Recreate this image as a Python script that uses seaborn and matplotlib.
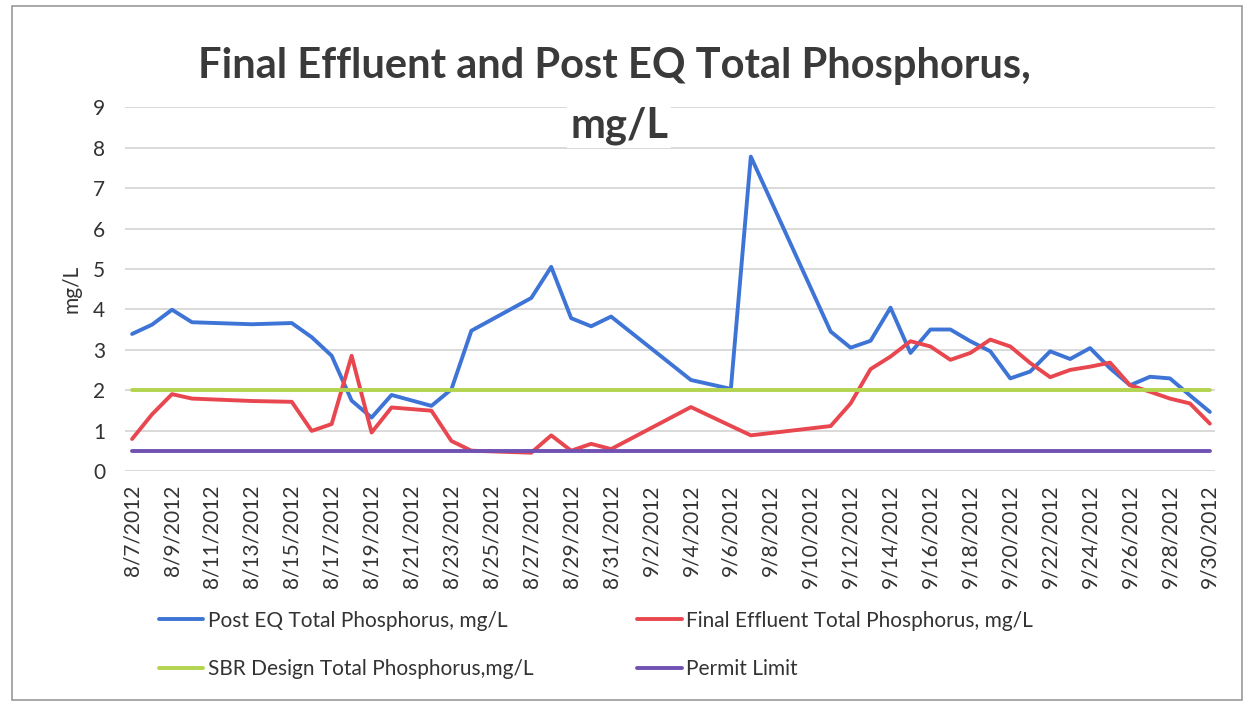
import matplotlib
matplotlib.use("Agg")
import matplotlib.pyplot as plt
import numpy as np
import pandas as pd
import seaborn as sns

# sample dates (Excel date axis, only days with samples)
dates = [
    "2012-08-07", "2012-08-08", "2012-08-09", "2012-08-10", "2012-08-13",
    "2012-08-15", "2012-08-16", "2012-08-17", "2012-08-18", "2012-08-19",
    "2012-08-20", "2012-08-22", "2012-08-23", "2012-08-24", "2012-08-27",
    "2012-08-28", "2012-08-29", "2012-08-30", "2012-08-31", "2012-09-04",
    "2012-09-06", "2012-09-07", "2012-09-11", "2012-09-12", "2012-09-13",
    "2012-09-14", "2012-09-15", "2012-09-16", "2012-09-17", "2012-09-18",
    "2012-09-19", "2012-09-20", "2012-09-21", "2012-09-22", "2012-09-23",
    "2012-09-24", "2012-09-25", "2012-09-26", "2012-09-27", "2012-09-28",
    "2012-09-29", "2012-09-30",
]
post_eq = [
    3.39, 3.62, 3.99, 3.68, 3.63, 3.66, 3.31, 2.85, 1.74, 1.32,
    1.88, 1.61, 2.02, 3.47, 4.28, 5.05, 3.78, 3.58, 3.82, 2.25,
    2.03, 7.78, 3.45, 3.05, 3.22, 4.04, 2.92, 3.50, 3.50, 3.21,
    2.96, 2.29, 2.46, 2.96, 2.77, 3.04, 2.54, 2.12, 2.33, 2.29,
    1.87, 1.46,
]
final_eff = [
    0.79, 1.40, 1.90, 1.79, 1.73, 1.71, 0.99, 1.16, 2.85, 0.95,
    1.57, 1.49, 0.74, 0.50, 0.45, 0.88, 0.50, 0.67, 0.54, 1.58,
    np.nan, 0.88, 1.11, 1.67, 2.52, 2.83, 3.21, 3.08, 2.75, 2.92,
    3.25, 3.08, 2.67, 2.32, 2.50, 2.58, 2.68, 2.12, 1.96, 1.79,
    1.67, 1.17,
]
SBR_DESIGN = 2.0
PERMIT_LIMIT = 0.5

series_names = [
    "Post EQ Total Phosphorus, mg/L",
    "Final Effluent Total Phosphorus, mg/L",
    "SBR Design Total Phosphorus,mg/L",
    "Permit Limit",
]
colors = ["#3d74d6", "#e8474f", "#b3d44f", "#7052b3"]

d = pd.to_datetime(dates)
df = pd.concat([
    pd.DataFrame({"date": d, "value": post_eq, "series": series_names[0]}),
    pd.DataFrame({"date": d, "value": final_eff, "series": series_names[1]}),
    pd.DataFrame({"date": d, "value": SBR_DESIGN, "series": series_names[2]}),
    pd.DataFrame({"date": d, "value": PERMIT_LIMIT, "series": series_names[3]}),
]).dropna()

sns.set_style("white")
plt.rcParams["font.family"] = ["Lato", "DejaVu Sans"]

fig = plt.figure(figsize=(12.46, 7.06), dpi=100)
ax = fig.add_axes([0.100, 0.333, 0.875, 0.515])

sns.lineplot(data=df, x="date", y="value", hue="series",
             hue_order=series_names, palette=colors, linewidth=2.8,
             ax=ax, legend=False, sort=True, estimator=None)

ax.set_ylim(0, 9)
ax.set_yticks(range(0, 10))
start, end = d.min(), d.max()
ax.set_xlim(start - pd.Timedelta(hours=9), end + pd.Timedelta(hours=6))
ticks = pd.date_range(start, end, freq="2D")
ax.set_xticks(ticks)
ax.set_xticklabels([f"{t.month}/{t.day}/{t.year}" for t in ticks],
                   rotation=90, fontsize=15, color="#333333")
ax.tick_params(axis="x", length=0, pad=10)
ax.tick_params(axis="y", length=0, pad=14, labelsize=15, labelcolor="#333333")
ax.grid(axis="y", color="#cfcfcf", linewidth=1.1)
ax.set_axisbelow(True)
for s in ax.spines.values():
    s.set_visible(False)
ax.set_xlabel("")
ax.set_ylabel("mg/L", fontsize=15, color="#333333", labelpad=8)

# two-line title; the second line sits over the top gridline
fig.text(0.493, 0.906, "Final Effluent and Post EQ Total Phosphorus,",
         ha="center", va="center", fontsize=30, fontweight="bold",
         color="#3a3a3a")
fig.text(0.497, 0.822, "mg/L", ha="center", va="center", fontsize=30,
         fontweight="bold", color="#3a3a3a",
         bbox=dict(facecolor="white", edgecolor="none", pad=2))

handles = [plt.Line2D([], [], color=c, linewidth=2.8) for c in colors]
order = [0, 2, 1, 3]
ax.legend([handles[i] for i in order], [series_names[i] for i in order],
          ncol=2, loc="upper left", bbox_to_anchor=(0.014, -0.333),
          frameon=False, fontsize=15, handlelength=2.15, handletextpad=0.2,
          columnspacing=5.0, labelspacing=1.35, labelcolor="#333333")

# chart area border
fig.patches.append(plt.Rectangle((0.010, 0.008), 0.987, 0.984,
                                 transform=fig.transFigure, fill=False,
                                 edgecolor="#9a9a9a", linewidth=1.2))

fig.savefig("out.png", dpi=100)
